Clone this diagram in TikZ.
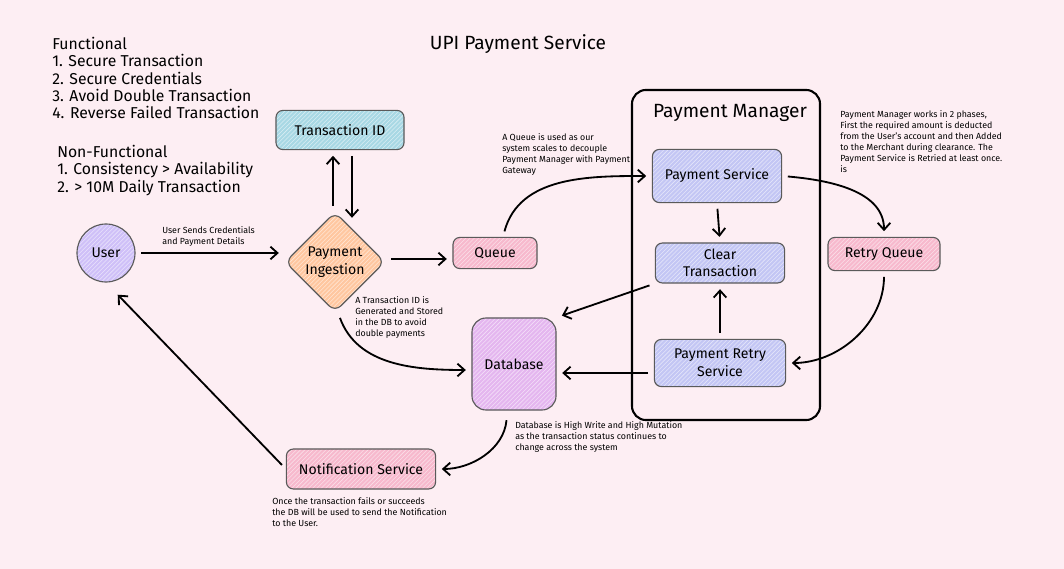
\documentclass[tikz,border=0pt]{standalone}
\usepackage{fontspec}
\setmainfont{Fira Sans}
\usetikzlibrary{arrows.meta, shapes.geometric, positioning, calc, patterns}
\definecolor{bgpink}{HTML}{FDEEF3}
\definecolor{idblue}{HTML}{A8D8E4}
\definecolor{ingestorange}{HTML}{FFC7A0}
\definecolor{userlilac}{HTML}{CFC0F8}
\definecolor{queuepink}{HTML}{F7B9CD}
\definecolor{servblue}{HTML}{C3C6F4}
\definecolor{dbviolet}{HTML}{E4B6EF}
\definecolor{edgegrey}{HTML}{5A5A5A}
\newcommand{\boxfont}{\fontsize{10}{12.5}\selectfont}
\newcommand{\listfont}{\fontsize{11.2}{12.3}\selectfont}
\newcommand{\headfont}{\fontsize{13.6}{15}\selectfont}
\newcommand{\notefont}{\fontsize{6.3}{7.8}\selectfont}
\tikzset{
	sketch/.style={draw=edgegrey, line width=0.8pt, rounded corners=5pt,
		align=center, font=\boxfont, inner sep=2pt},
	hatch/.style={preaction={fill=#1}, pattern=north east lines,
		pattern color=white!55!#1},
	idbox/.style={sketch, hatch=idblue},
	queuebox/.style={sketch, hatch=queuepink},
	servbox/.style={sketch, hatch=servblue},
	flow/.style={draw, line width=1.3pt, -{Straight Barb[length=5pt, width=9pt]},
		shorten >=4pt, shorten <=4pt},
	note/.style={font=\notefont, align=left, anchor=north west, inner sep=0pt}
}

\begin{document}
\begin{tikzpicture}[
    x=0.025cm, y=-0.025cm,
    % Container for the payment manager services
    container/.style={draw=black, line width=1.5pt, rounded corners=10pt}
]
\fill[bgpink] (0,0) rectangle (1064,569);
\useasboundingbox (0,0) rectangle (1064,569);

% --- TITLE AND REQUIREMENTS ---
\node[font=\headfont] (title) at (518,44) {UPI Payment Service};
\node[anchor=north west, align=left, font=\listfont, inner sep=0pt] (functional) at (52,37)
    {Functional\\1. Secure Transaction\\2. Secure Credentials\\3. Avoid Double Transaction\\4. Reverse Failed Transaction};
\node[anchor=north west, align=left, font=\listfont, inner sep=0pt] (nonfunctional) at (57,145)
    {Non-Functional\\1. Consistency > Availability\\2. > 10M Daily Transaction};

% --- PAYMENT MANAGER CONTAINER ---
\node[container, minimum width=4.7cm, minimum height=8.25cm] (pm) at (726,255) {};
\node[font=\headfont] (pmtitle) at (730,113) {Payment Manager};

% --- NODES ---
\node[sketch, circle, hatch=userlilac, minimum size=1.45cm, inner sep=0pt] (user) at (106,253) {User};
\node[idbox, minimum width=3.2cm, minimum height=0.98cm] (txid) at (340,130) {Transaction ID};
\node[sketch, diamond, rounded corners=6pt, hatch=ingestorange, minimum width=2.5cm,
      minimum height=2.5cm, inner sep=0pt] (ingest) at (335,262) {Payment\\Ingestion};
\node[queuebox, minimum width=2.1cm, minimum height=0.78cm] (queue) at (495,253) {Queue};
\node[servbox, minimum width=3.23cm, minimum height=1.33cm] (ps) at (717,176) {Payment Service};
\node[servbox, minimum width=3.23cm, minimum height=1.0cm] (ct) at (720,263) {Clear\\Transaction};
\node[servbox, minimum width=3.28cm, minimum height=1.18cm] (prs) at (720,363) {Payment Retry\\Service};
\node[queuebox, minimum width=2.8cm, minimum height=0.83cm] (rq) at (884,254) {Retry Queue};
\node[sketch, hatch=dbviolet, rounded corners=10pt, minimum width=2.1cm, minimum height=2.3cm] (db) at (514,364) {Database};
\node[queuebox, minimum width=3.73cm, minimum height=1.0cm] (notif) at (361,469) {Notification Service};

% --- CONNECTORS ---
\draw[flow] (user.east) -- (user.east -| ingest.west);
\draw[flow] ($(ingest.north)+(-2,0)$) -- ($(txid.south)+(-7,0)$);
\draw[flow] ($(txid.south)+(12,0)$) -- ($(ingest.north)+(17,12)$);
\draw[flow] ($(ingest.east)+(0,-3)$) -- ($(ingest.east -| queue.west)+(0,-3)$);
\draw[flow] ($(ingest.south)+(3,0)$) to[out=-70, in=180] ($(db.west)+(0,6)$);
\draw[flow] ($(queue.north)+(8,0)$) to[out=75, in=180] (ps.west);
\draw[flow] (ps.south) -- (ct.north);
\draw[flow] (prs.north) -- (ct.south);
\draw[flow] (ps.east) to[out=-5, in=90] (rq.north);
\draw[flow] (rq.south) to[out=-90, in=0] (prs.east);
\draw[flow] (ct.south west) -- (db.north east);
\draw[flow] ($(prs.west)+(0,10)$) -- ($(prs.west -| db.east)+(0,10)$);
\draw[flow] ($(db.south)+(-7,4)$) to[out=-95, in=0] (notif.east);
\draw[flow, shorten >=12pt] (notif.west) -- (user.south);

% --- NOTES ---
\node[note] (credlabel) at (162,226) {User Sends Credentials\\and Payment Details};
\node[note] (txnote) at (355,296) {A Transaction ID is\\Generated and Stored\\in the DB to avoid\\double payments};
\node[note] (queuenote) at (502,133) {A Queue is used as our\\system scales to decouple\\Payment Manager with Payment\\Gateway};
\node[note] (pmnote) at (840,110) {Payment Manager works in 2 phases,\\First the required amount is deducted\\from the User's account and then Added\\to the Merchant during clearance. The\\Payment Service is Retried at least once.\\is};
\node[note] (dbnote) at (515,421) {Database is High Write and High Mutation\\as the transaction status continues to\\change across the system};
\node[note] (notifnote) at (272,497) {Once the transaction fails or succeeds\\the DB will be used to send the Notification\\to the User.};

\end{tikzpicture}
\end{document}
